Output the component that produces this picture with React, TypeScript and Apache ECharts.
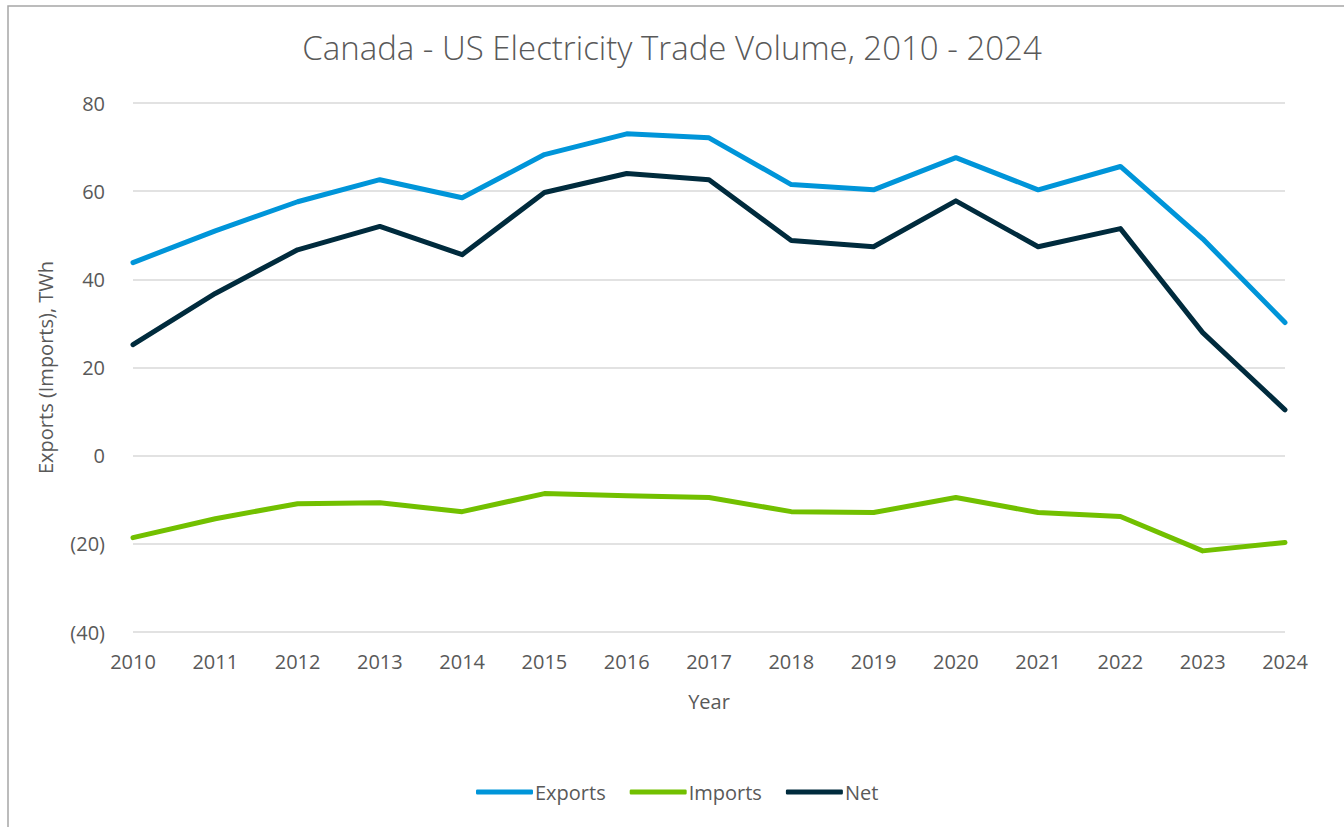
import React, { useEffect, useRef } from "react";
import * as echarts from "echarts";

const years = ["2010","2011","2012","2013","2014","2015","2016","2017","2018","2019","2020","2021","2022","2023","2024"];
const exportsTWh = [43.8, 51.0, 57.6, 62.6, 58.5, 68.3, 73.0, 72.1, 61.5, 60.3, 67.6, 60.3, 65.6, 49.2, 30.2];
const importsTWh = [-18.6, -14.3, -10.9, -10.7, -12.7, -8.6, -9.1, -9.5, -12.7, -12.9, -9.5, -12.9, -13.8, -21.6, -19.7];
const netTWh = [25.2, 36.8, 46.7, 52.0, 45.6, 59.7, 64.0, 62.6, 48.8, 47.4, 57.8, 47.4, 51.5, 27.9, 10.4];

const FONT = "'Open Sans', 'Noto Sans', sans-serif";
const TXT = "#595959";

export default function App() {
  const ref = useRef<HTMLDivElement>(null);
  useEffect(() => {
    const chart = echarts.init(ref.current!, null, { renderer: "svg" });
    const line = (name: string, data: number[], color: string) => ({
      name,
      type: "line",
      data,
      symbol: "none",
      lineStyle: { color, width: 5, cap: "round", join: "round" },
      itemStyle: { color },
    });
    chart.setOption({
      animation: false,
      textStyle: { fontFamily: FONT },
      title: {
        text: "Canada - US Electricity Trade Volume, 2010 - 2024",
        left: "center",
        top: 26,
        textStyle: { fontFamily: FONT, fontSize: 33, fontWeight: 300, color: TXT },
      },
      graphic: [
        {
          type: "rect",
          shape: { x: 8, y: 6, width: 1400, height: 900 },
          style: { fill: "none", stroke: "#a6a6a6", lineWidth: 1.5 },
          silent: true,
        },
      ],
      legend: {
        bottom: 20,
        left: 471,
        itemWidth: 57,
        itemHeight: 5,
        itemGap: 24,
        icon: "roundRect",
        textStyle: { fontFamily: FONT, fontSize: 20, color: TXT, padding: [0, 0, 0, -3] },
        data: ["Exports", "Imports", "Net"],
      },
      grid: { left: 133, right: 59, top: 103, bottom: 195, containLabel: false },
      xAxis: {
        type: "category",
        data: years,
        boundaryGap: false,
        name: "Year",
        nameLocation: "middle",
        nameGap: 59,
        nameTextStyle: { fontFamily: FONT, fontSize: 20, color: TXT },
        axisLine: { show: false },
        axisTick: { show: false },
        axisLabel: { fontFamily: FONT, fontSize: 20, color: TXT, margin: 19 },
      },
      yAxis: {
        type: "value",
        min: -40,
        max: 80,
        interval: 20,
        name: "Exports (Imports), TWh",
        nameLocation: "middle",
        nameGap: 78,
        nameTextStyle: { fontFamily: FONT, fontSize: 20, color: TXT },
        axisLine: { show: false },
        axisTick: { show: false },
        splitLine: { lineStyle: { color: "#d9d9d9", width: 1.5 } },
        axisLabel: {
          fontFamily: FONT,
          fontSize: 20,
          color: TXT,
          margin: 28,
          formatter: (v: number) => (v < 0 ? `(${Math.abs(v)})` : `${v}`),
        },
      },
      series: [
        line("Exports", exportsTWh, "#0095d9"),
        line("Imports", importsTWh, "#72c000"),
        line("Net", netTWh, "#002b3d"),
      ],
    });
    return () => chart.dispose();
  }, []);
  return (
    <div
      ref={ref}
      style={{ position: "absolute", left: 0, top: 0, width: 1344, height: 827, background: "#fff" }}
    />
  );
}
